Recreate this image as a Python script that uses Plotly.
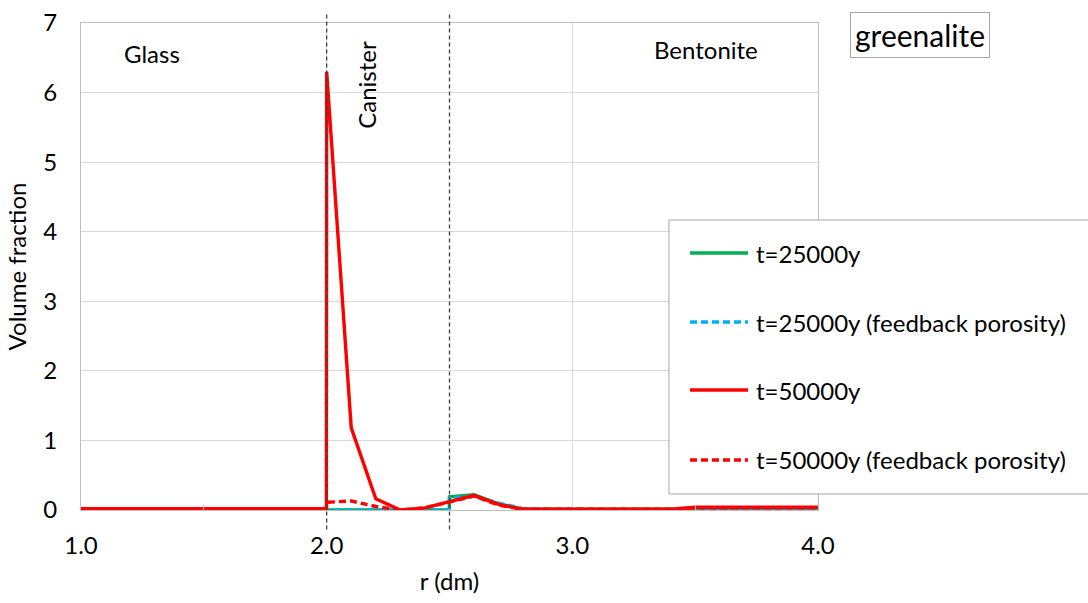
import plotly.graph_objects as go

# radial positions (dm); interfaces at 2.0 (glass/canister) and 2.5 (canister/bentonite) are doubled
r = [1.0, 1.2, 1.4, 1.6, 1.8, 1.999, 2.0, 2.1, 2.2, 2.3, 2.4, 2.499, 2.5,
     2.6, 2.7, 2.8, 2.9, 3.0, 3.1, 3.2, 3.3, 3.4, 3.5, 3.6, 3.7, 3.8, 3.9, 4.0]

# greenalite volume fraction
t25000 = [0.0, 0.0, 0.0, 0.0, 0.0, 0.0, 0.0, 0.0, 0.0, 0.0, 0.0, 0.0, 0.19,
          0.22, 0.09, 0.01, 0.01, 0.01, 0.01, 0.01, 0.01, 0.01, 0.01, 0.01, 0.01, 0.01, 0.01, 0.01]
t25000_fb = [0.0, 0.0, 0.0, 0.0, 0.0, 0.0, 0.0, 0.0, 0.0, 0.0, 0.0, 0.0, 0.17,
             0.2, 0.1, 0.02, 0.0, 0.0, 0.0, 0.0, 0.0, 0.0, 0.0, 0.0, 0.0, 0.0, 0.0, 0.0]
t50000 = [0.02, 0.02, 0.02, 0.02, 0.02, 0.02, 6.3, 1.18, 0.16, 0.0, 0.03, 0.11, 0.12,
          0.21, 0.08, 0.01, 0.01, 0.01, 0.01, 0.01, 0.01, 0.01, 0.04, 0.04, 0.04, 0.04, 0.04, 0.04]
t50000_fb = [0.02, 0.02, 0.02, 0.02, 0.02, 0.02, 0.11, 0.13, 0.05, 0.0, 0.03, 0.11, 0.12,
             0.2, 0.07, 0.01, 0.01, 0.01, 0.01, 0.01, 0.01, 0.01, 0.03, 0.03, 0.03, 0.03, 0.03, 0.03]

series_names = ["t=25000y", "t=25000y (feedback porosity)", "t=50000y", "t=50000y (feedback porosity)"]
series_values = [t25000, t25000_fb, t50000, t50000_fb]
series_colors = ["#00B050", "#00B0F0", "#FF0000", "#FF0000"]
series_dash = ["solid", "7px,4px", "solid", "7px,4px"]

FONT = "Lato"
TXT = 24
LINE_W = 3.4

fig = go.Figure()
for name, vals, color, dash in zip(series_names, series_values, series_colors, series_dash):
    fig.add_trace(go.Scatter(
        x=r, y=vals, name=name, mode="lines", showlegend=False,
        line=dict(color=color, width=LINE_W, dash=dash),
    ))

# material boundaries
for xb in [2.0, 2.5]:
    fig.add_shape(type="line", xref="x", yref="paper", x0=xb, x1=xb, y0=-0.04, y1=1.023,
                  line=dict(color="#404040", width=1.3, dash="4px,3px"))

# region labels
def label(text, x, y, size=TXT, **kw):
    fig.add_annotation(text=text, xref="paper", yref="paper", x=x, y=y,
                       xanchor="center", yanchor="middle", showarrow=False,
                       font=dict(size=size, family=FONT, color="black"), **kw)

label("Glass", 0.096, 0.938)
label("Bentonite", 0.848, 0.945)
label("Canister", 0.388, 0.873, textangle=-90)
label("greenalite", 1.138, 0.975, size=30,
      bordercolor="#A6A6A6", borderwidth=1, borderpad=4, bgcolor="white")

# legend panel
fig.add_shape(type="rect", xref="paper", yref="paper", x0=0.7978, x1=1.40, y0=0.0329, y1=0.5955,
              line=dict(color="#A6A6A6", width=1), fillcolor="white", layer="above")
leg_y = [0.5277, 0.3860, 0.2464, 0.1027]
for name, color, dash, yy in zip(series_names, series_colors, series_dash, leg_y):
    fig.add_shape(type="line", xref="paper", yref="paper", x0=0.8263, x1=0.905, y0=yy, y1=yy,
                  line=dict(color=color, width=LINE_W, dash=dash), layer="above")
    fig.add_annotation(text=name, xref="paper", yref="paper", x=0.9125, y=yy,
                       xanchor="left", yanchor="middle", showarrow=False,
                       font=dict(size=TXT, family=FONT, color="black"))

fig.update_layout(
    width=1088, height=603,
    margin=dict(l=81, r=270, t=23, b=93),
    paper_bgcolor="white", plot_bgcolor="white",
    font=dict(family=FONT, size=TXT, color="black"),
    showlegend=False,
    xaxis=dict(range=[1.0, 4.0], dtick=1.0, tick0=1.0, tickformat=".1f",
               showgrid=True, gridcolor="#D9D9D9", gridwidth=1,
               showline=True, linecolor="#BFBFBF", linewidth=1, mirror=True,
               ticks="", ticklabelstandoff=14, automargin=False,
               minor=dict(dtick=0.5, ticks="inside", ticklen=5, tickcolor="#BFBFBF"),
               zeroline=False,
               title=dict(text="r (dm)", font=dict(size=TXT), standoff=15),
               tickfont=dict(size=TXT)),
    yaxis=dict(range=[0, 7], dtick=1, showgrid=True, gridcolor="#D9D9D9", gridwidth=1,
               showline=True, linecolor="#BFBFBF", linewidth=1, mirror=True,
               ticks="", zeroline=False, ticklabelstandoff=18, automargin=False,
               title=dict(text="Volume fraction", font=dict(size=TXT), standoff=9),
               tickfont=dict(size=TXT)),
)

fig.write_html("out.html")
